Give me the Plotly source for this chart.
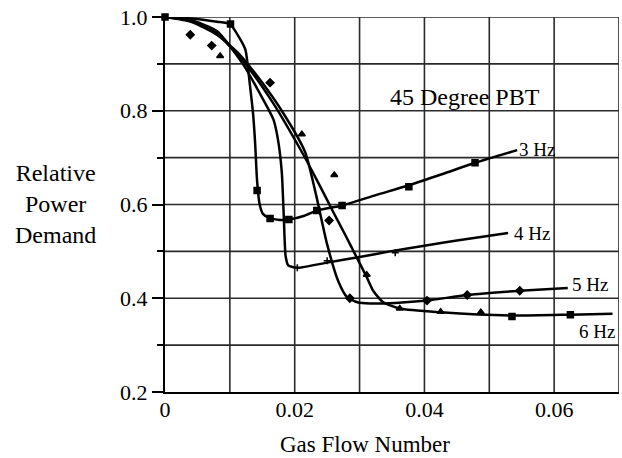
import plotly.graph_objects as go

# curves (gas flow number, relative power demand)
hz3_x = [0, 0.004, 0.008, 0.010, 0.0115, 0.0124, 0.0131, 0.0136, 0.0139, 0.0142, 0.0146, 0.0151,
         0.016, 0.0177, 0.0191, 0.0215, 0.0234, 0.0273, 0.0325, 0.0376, 0.0428, 0.0478, 0.0543]
hz3_y = [1.0, 0.997, 0.99, 0.985, 0.955, 0.93, 0.854, 0.79, 0.73, 0.65, 0.60, 0.58,
         0.572, 0.567, 0.568, 0.576, 0.587, 0.598, 0.62, 0.641, 0.665, 0.689, 0.716]

hz4_x = [0, 0.004, 0.008, 0.012, 0.0145, 0.0167, 0.0174, 0.018, 0.0183, 0.0186, 0.019, 0.0204,
         0.025, 0.030, 0.0347, 0.040, 0.045, 0.0529]
hz4_y = [1.0, 0.993, 0.97, 0.9, 0.84, 0.782, 0.74, 0.67, 0.58, 0.49, 0.47, 0.465,
         0.476, 0.488, 0.50, 0.512, 0.523, 0.539]

hz5_x = [0, 0.004, 0.008, 0.0115, 0.0146, 0.018, 0.0216, 0.0233, 0.025, 0.0267, 0.0281, 0.0298,
         0.0316, 0.0355, 0.0404, 0.0466, 0.0547, 0.0621]
hz5_y = [1.0, 0.99, 0.962, 0.92, 0.867, 0.80, 0.712, 0.62, 0.515, 0.437, 0.402, 0.391,
         0.389, 0.39, 0.395, 0.407, 0.416, 0.422]

hz6_x = [0, 0.004, 0.008, 0.0126, 0.0165, 0.0211, 0.0235, 0.0259, 0.0278, 0.0296, 0.0311, 0.0321,
         0.0336, 0.0362, 0.0425, 0.0535, 0.0625, 0.069]
hz6_y = [1.0, 0.992, 0.965, 0.896, 0.82, 0.712, 0.65, 0.585, 0.535, 0.486, 0.445, 0.416,
         0.392, 0.378, 0.37, 0.363, 0.365, 0.367]

# measured points
sq_x = [0, 0.0101, 0.0142, 0.0162, 0.0191, 0.0234, 0.0273, 0.0376, 0.0478, 0.0535, 0.0625]
sq_y = [1.0, 0.985, 0.63, 0.57, 0.568, 0.587, 0.598, 0.638, 0.689, 0.361, 0.365]
cross_x = [0.0204, 0.025, 0.0355]
cross_y = [0.465, 0.48, 0.497]
dia_x = [0.0039, 0.0072, 0.0162, 0.0253, 0.0285, 0.0404, 0.0466, 0.0547]
dia_y = [0.962, 0.939, 0.86, 0.566, 0.40, 0.395, 0.407, 0.416]
tri_x = [0.0085, 0.0211, 0.0261, 0.0311, 0.0362, 0.0425, 0.0487]
tri_y = [0.917, 0.75, 0.663, 0.45, 0.378, 0.371, 0.37]

labels = ["3 Hz", "4 Hz", "5 Hz", "6 Hz"]
label_x = [0.0573, 0.0566, 0.0655, 0.0666]
label_y = [0.718, 0.538, 0.43, 0.33]

x_grid = [0.01, 0.02, 0.03, 0.04, 0.05, 0.06, 0.07]
y_grid = [0.3, 0.4, 0.5, 0.6, 0.7, 0.8, 0.9, 1.0]
y_labels = [0.2, 0.4, 0.6, 0.8, 1.0]

serif = "Liberation Serif"
W, H = 622, 458
L, R, T, B = 165, 3, 17, 66
X0, X1, Y0, Y1 = 0, 0.07, 0.2, 1.0

fig = go.Figure()

# grid drawn as plain line traces
gx, gy = [], []
for g in x_grid:
    gx += [g, g, None]
    gy += [Y0, Y1, None]
for g in y_grid:
    gx += [X0, X1, None]
    gy += [g, g, None]
fig.add_trace(go.Scatter(x=gx, y=gy, mode="lines", line=dict(color="#2a2a2a", width=1.6),
                         hoverinfo="skip", cliponaxis=False))

for xs, ys in [(hz3_x, hz3_y), (hz4_x, hz4_y), (hz5_x, hz5_y), (hz6_x, hz6_y)]:
    fig.add_trace(go.Scatter(x=xs, y=ys, mode="lines",
                             line=dict(color="black", width=2.5, shape="spline", smoothing=0.6),
                             cliponaxis=False))

for xs, ys, sym, sz in [(sq_x, sq_y, "square", 6), (cross_x, cross_y, "cross-thin", 5),
                        (dia_x, dia_y, "diamond", 6), (tri_x, tri_y, "triangle-up", 6)]:
    fig.add_trace(go.Scatter(x=xs, y=ys, mode="markers", cliponaxis=False,
                             marker=dict(symbol=sym, size=sz, color="black",
                                         line=dict(color="black", width=1.5))))

for t, lx, ly in zip(labels, label_x, label_y):
    fig.add_annotation(x=lx, y=ly, text=t, showarrow=False, font=dict(family=serif, size=19, color="black"))

fig.add_annotation(x=0.0463, y=0.83, text="45 Degree PBT", showarrow=False,
                   font=dict(family=serif, size=24, color="black"))

# titles placed by page pixel position
def paper_xy(px, py):
    return (px - L) / (W - L - R), 1 - (py - T) / (H - T - B)

ax, ay = paper_xy(55, 204)
fig.add_annotation(x=ax, y=ay, xref="paper", yref="paper", text="Relative<br>Power<br>Demand",
                   xanchor="center", yanchor="middle", showarrow=False,
                   font=dict(family=serif, size=24, color="black"))
ax, ay = paper_xy(365, 444)
fig.add_annotation(x=ax, y=ay, xref="paper", yref="paper", text="Gas Flow Number",
                   xanchor="center", yanchor="middle", showarrow=False,
                   font=dict(family=serif, size=23, color="black"))

fig.update_layout(
    template="none",
    width=W, height=H, showlegend=False,
    margin=dict(l=L, r=R, t=T, b=B),
    paper_bgcolor="white", plot_bgcolor="white",
    font=dict(family=serif, size=22, color="black"),
)
fig.update_xaxes(range=[X0, X1], dtick=0.02, tick0=0, showgrid=False, ticklabelstandoff=-3,
                 showline=True, linecolor="black", linewidth=2, zeroline=False, ticks="")
fig.update_yaxes(range=[Y0, Y1], tickvals=y_labels, ticktext=[f"{v:.1f}" for v in y_labels],
                 showgrid=False, ticklabeloverflow="allow",
                 ticks="outside", ticklen=11, tickwidth=1.5, tickcolor="black",
                 minor=dict(dtick=0.1, tick0=0.2, ticks="outside", ticklen=6, tickwidth=1.5,
                            tickcolor="black"),
                 showline=True, linecolor="black", linewidth=2, zeroline=False)

# drop the browser's default 8px page margin so the figure fills the window
fig.write_html("out.html", config={"displayModeBar": False},
               post_script="document.body.style.margin='0';")
